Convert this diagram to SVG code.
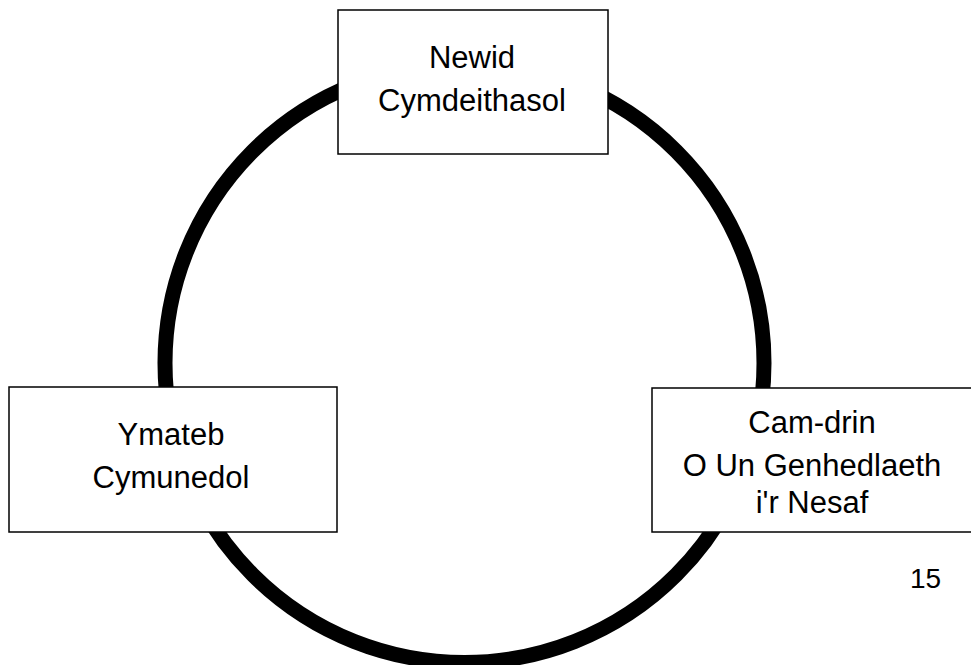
<svg xmlns="http://www.w3.org/2000/svg" width="971" height="665" viewBox="0 0 971 665">
<style>
.box{fill:#fff;stroke:#000;stroke-width:1.5}
.t{font-family:"Liberation Sans",Arial,sans-serif;font-size:31px;fill:#000;text-anchor:middle}
</style>
<rect width="971" height="665" fill="#fff"/>
<g id="connectors">
<circle cx="464.5" cy="363" r="299.5" fill="none" stroke="#000" stroke-width="15"/>
</g>
<g id="node-newid">
<rect class="box" x="338" y="10" width="270" height="144"/>
<text class="t" x="472" y="68">Newid</text>
<text class="t" x="472" y="111">Cymdeithasol</text>
</g>
<g id="node-ymateb">
<rect class="box" x="9" y="387" width="328" height="145"/>
<text class="t" x="171" y="445">Ymateb</text>
<text class="t" x="171" y="488">Cymunedol</text>
</g>
<g id="node-camdrin">
<rect class="box" x="652" y="388" width="328" height="144"/>
<text class="t" x="812" y="433">Cam-drin</text>
<text class="t" x="812" y="476">O Un Genhedlaeth</text>
<text class="t" x="812" y="513">i'r Nesaf</text>
</g>
<text x="910" y="588" font-family="'Liberation Sans',Arial,sans-serif" font-size="28" fill="#000">15</text>
</svg>
